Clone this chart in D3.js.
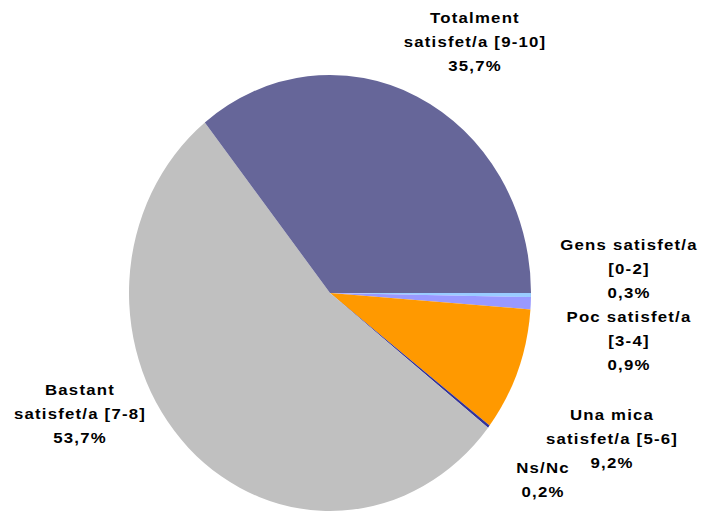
<!DOCTYPE html>
<html><head><meta charset="utf-8">
<script src="https://cdn.jsdelivr.net/npm/d3@7"></script>
<style>body{margin:0;background:#fff}svg{display:block}</style>
</head><body>
<svg id="c" width="702" height="511"></svg>
<script>
const categories = ["Gens satisfet/a [0-2]","Poc satisfet/a [3-4]","Una mica satisfet/a [5-6]","Ns/Nc","Bastant satisfet/a [7-8]","Totalment satisfet/a [9-10]"];
const values = [0.3, 0.9, 9.2, 0.2, 53.7, 35.7];
const valueLabels = ["0,3%","0,9%","9,2%","0,2%","53,7%","35,7%"];
const labelLines = [["Gens satisfet/a","[0-2]"],["Poc satisfet/a","[3-4]"],["Una mica","satisfet/a [5-6]"],["Ns/Nc"],["Bastant","satisfet/a [7-8]"],["Totalment","satisfet/a [9-10]"]];
const colors = ["#99CCFF","#9999FF","#FF9900","#333399","#C0C0C0","#666699"];

// layout (label anchor: x centre, baseline of first line)
const labelPos = [[629,250],[629,322],[612,420],[543,473],[80,395],[475,23]];
const cx = 330, cy = 293, r = 201, ry = 218, lineH = 24;

const svg = d3.select("#c");
const pie = d3.pie().sort(null).value(d => d).startAngle(Math.PI/2).endAngle(Math.PI/2 + 2*Math.PI);
const arc = d3.arc().innerRadius(0).outerRadius(r);
const g = svg.append("g").attr("transform", `translate(${cx},${cy}) scale(1,${ry/r})`);
g.selectAll("path").data(pie(values)).join("path")
  .attr("d", arc).attr("fill", (d,i) => colors[i]);

const lab = svg.append("g").attr("font-family","'Liberation Sans', Arial, sans-serif")
  .attr("font-weight","bold").attr("font-size","14px").attr("fill","#000").attr("text-anchor","middle")
  .attr("letter-spacing","1px");
categories.forEach((c,i) => {
  const lines = labelLines[i].concat([valueLabels[i]]);
  const t = lab.append("g").attr("transform", `translate(${labelPos[i][0]},${labelPos[i][1]}) scale(1.2,1)`)
    .append("text").attr("x", 0).attr("y", 0);
  lines.forEach((l,j) => t.append("tspan").attr("x", 0).attr("dy", j===0?0:lineH).text(l));
});
</script>
</body></html>
